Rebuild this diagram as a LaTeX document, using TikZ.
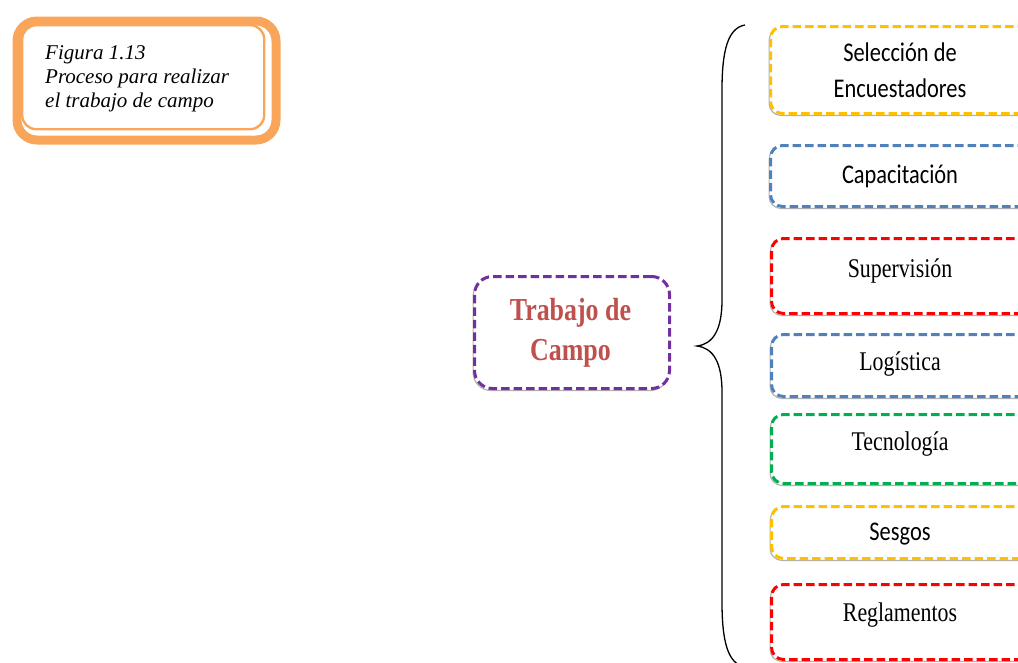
\documentclass[tikz,border=0pt]{standalone}
\usepackage{fontspec}
\usepackage{graphicx}
\setmainfont{Liberation Serif}
\newfontfamily\calibri{Carlito}
\definecolor{figorange}{RGB}{250,166,90}
\definecolor{cyellow}{RGB}{255,192,0}
\definecolor{cblue}{RGB}{79,129,189}
\definecolor{cred}{RGB}{255,0,0}
\definecolor{cgreen}{RGB}{0,176,80}
\definecolor{cpurple}{RGB}{112,48,160}
\definecolor{ctitle}{RGB}{192,80,77}
% narrowed lettering used inside the dashed boxes
\newcommand\narrow[1]{\scalebox{0.81}[1]{#1}}
\newcommand\narrowsans[1]{\scalebox{0.83}[1]{#1}}
\tikzset{
  shadowed/.style={preaction={draw=gray!60, solid, line width=1.2pt,
      transform canvas={xshift=-1.4pt, yshift=-2pt}}},
  itembox/.style={draw=#1, line width=3pt, dash pattern=on 8.5pt off 4pt,
      rounded corners=12pt, fill=white, anchor=north west,
      minimum width=280pt, inner sep=0pt, shadowed},
  serifitem/.style={font=\fontsize{27}{33}\selectfont, anchor=base, inner sep=0pt},
  sansitem/.style={font=\calibri\fontsize{27}{35.5}\selectfont, anchor=base, inner sep=0pt},
}
\begin{document}
\begin{tikzpicture}[x=1pt,y=-1pt]
\useasboundingbox (0,0) rectangle (1018,662);
\clip (0,0) rectangle (1018,662);

% caption frame: thick outer border with a thin inner line
\node[draw=figorange, line width=9pt, rounded corners=20pt, anchor=north west,
      minimum width=259pt, minimum height=119pt, inner sep=0pt] (capout) at (12.5,16.5) {};
\node[draw=figorange, line width=2.4pt, rounded corners=14pt, anchor=north west,
      minimum width=242pt, minimum height=104pt, inner sep=0pt] (capin) at (21,24) {};
\node[font=\itshape\fontsize{21}{24}\selectfont, anchor=base west, inner sep=0pt,
      align=left] (captxt) at (45,107) {Figura 1.13\\Proceso para realizar\\el trabajo de campo};

% central topic
\node[draw=cpurple, line width=3pt, dash pattern=on 8.5pt off 4pt, rounded corners=18pt,
      fill=white, anchor=north west, minimum width=195pt, minimum height=112pt,
      inner sep=0pt, shadowed] (main) at (473,275) {};
\node[font=\bfseries\fontsize{32}{40}\selectfont, text=ctitle, anchor=base, inner sep=0pt,
      align=center] (maintxt) at (570.5,360) {\narrow{Trabajo de}\\\narrow{Campo}};

% brace grouping the items
\coordinate (btop) at (745,25);
\coordinate (btip) at (697,346);
\coordinate (bbot) at (745,667);
\draw[line width=1.3pt] (btop) .. controls (728,28) and (722,50) .. (722,90)
  -- (722,300) .. controls (722,330) and (713,344) .. (btip)
  .. controls (713,348) and (722,362) .. (722,392)
  -- (722,602) .. controls (722,642) and (728,664) .. (bbot);

% item boxes
\node[itembox=cyellow, minimum height=87pt] (b1) at (769,25) {};
\node[itembox=cblue,   minimum height=61pt] (b2) at (769,144) {};
\node[itembox=cred,    minimum height=75pt] (b3) at (770,237) {};
\node[itembox=cblue,   minimum height=62pt] (b4) at (770,333) {};
\node[itembox=cgreen,  minimum height=69pt] (b5) at (770,413) {};
\node[itembox=cyellow, minimum height=52pt] (b6) at (770,505) {};
\node[itembox=cred,    minimum height=75pt] (b7) at (770,583) {};

% item labels
\node[sansitem, align=center] (t1) at (900,97) {\narrowsans{Selección de}\\\narrowsans{Encuestadores}};
\node[sansitem]  (t2) at (900,183) {\narrowsans{Capacitación}};
\node[serifitem] (t3) at (900,277) {\narrow{Supervisión}};
\node[serifitem] (t4) at (900,370) {\narrow{Logística}};
\node[serifitem] (t5) at (900,450) {\narrow{Tecnología}};
\node[sansitem]  (t6) at (900,540) {\narrowsans{Sesgos}};
\node[serifitem] (t7) at (900,621.5) {\narrow{Reglamentos}};
\end{tikzpicture}
\end{document}
